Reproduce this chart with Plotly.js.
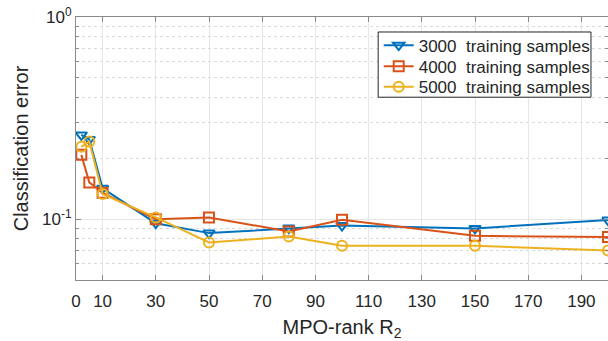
<!DOCTYPE html>
<html>
<head>
<meta charset="utf-8">
<script src="https://cdn.plot.ly/plotly-3.0.1.min.js"></script>
<style>html,body{margin:0;padding:0;background:#fff;}#chart{width:608px;height:341px;}</style>
</head>
<body>
<div id="chart"></div>
<script>
// MPO-rank values
const ranks = [2, 5, 10, 30, 50, 80, 100, 150, 200];
// Classification error per training-set size
const err3000 = [0.261, 0.248, 0.142, 0.0955, 0.0853, 0.0903, 0.093, 0.090, 0.099];
const err4000 = [0.208, 0.152, 0.135, 0.100, 0.102, 0.0869, 0.0994, 0.0827, 0.0815];
const err5000 = [0.228, 0.242, 0.133, 0.102, 0.0767, 0.082, 0.0738, 0.0738, 0.070];
const seriesNames = ['3000  training samples', '4000  training samples', '5000  training samples'];
const xTicks = [0, 10, 30, 50, 70, 90, 110, 130, 150, 170, 190];
const yTicks = [0.1, 1];
const yTickText = ['10<sup>-1</sup>', '10<sup>0</sup>'];
const yMinor = [0.05, 0.06, 0.07, 0.08, 0.09, 0.2, 0.3, 0.4, 0.5, 0.6, 0.7, 0.8, 0.9];

const colors = ['#0072BD', '#D95319', '#EDB120'];
const symbols = ['triangle-down-open', 'square-open', 'circle-open'];
const ys = [err3000, err4000, err5000];
const legendIds = ['legend', 'legend2', 'legend3'];
const legendRowY = [0.891, 0.811, 0.733];

const traces = ys.map((y, i) => ({
  x: ranks, y: y, type: 'scatter', mode: 'lines+markers', name: seriesNames[i],
  legend: legendIds[i],
  line: {color: colors[i], width: 2},
  marker: {symbol: symbols[i], size: 10, color: colors[i], line: {color: colors[i], width: 2}}
}));

const font = {family: 'Liberation Sans, Arial, sans-serif', color: '#262626'};
const layout = {
  width: 608, height: 341,
  margin: {l: 76, r: 0, t: 17, b: 61},
  paper_bgcolor: '#fff', plot_bgcolor: '#fff',
  font: Object.assign({size: 17}, font),
  showlegend: true,
  shapes: [{type: 'rect', xref: 'paper', yref: 'paper', x0: 0.568, x1: 0.968, y0: 0.695, y1: 0.943,
            fillcolor: '#fff', line: {color: '#262626', width: 1}, layer: 'above'}],
  xaxis: {
    range: [0, 200], tickmode: 'array', tickvals: xTicks,
    ticks: 'inside', ticklen: 5, tickcolor: '#8a8a8a',
    showline: true, linecolor: '#8a8a8a', linewidth: 1, mirror: 'ticks',
    showgrid: true, gridcolor: '#e6e6e6', zeroline: false,
    tickfont: Object.assign({size: 17}, font), ticklabelstandoff: 6,
    title: {text: 'MPO-rank R<sub>2</sub>', font: Object.assign({size: 20}, font), standoff: 9}
  },
  yaxis: {
    type: 'log', range: [Math.log10(0.05), 0],
    tickmode: 'array', tickvals: yTicks, ticktext: yTickText,
    ticks: 'inside', ticklen: 5, tickcolor: '#8a8a8a',
    showline: true, linecolor: '#8a8a8a', linewidth: 1, mirror: 'ticks',
    showgrid: true, gridcolor: '#e6e6e6', zeroline: false,
    tickfont: Object.assign({size: 17}, font),
    minor: {tickmode: 'array', tickvals: yMinor, ticks: 'inside', ticklen: 3, tickcolor: '#8a8a8a',
            showgrid: true, gridcolor: '#d9d9d9', griddash: 'dot', gridwidth: 1},
    title: {text: 'Classification error', font: Object.assign({size: 20}, font), standoff: 8}
  }
};
legendIds.forEach((id, i) => {
  layout[id] = {
    x: 0.569, xanchor: 'left', y: legendRowY[i], yanchor: 'middle',
    bgcolor: 'rgba(0,0,0,0)', borderwidth: 0,
    font: Object.assign({size: 17}, font), itemwidth: 30
  };
});

Plotly.newPlot('chart', traces, layout, {displayModeBar: false, staticPlot: true});
</script>
</body>
</html>
